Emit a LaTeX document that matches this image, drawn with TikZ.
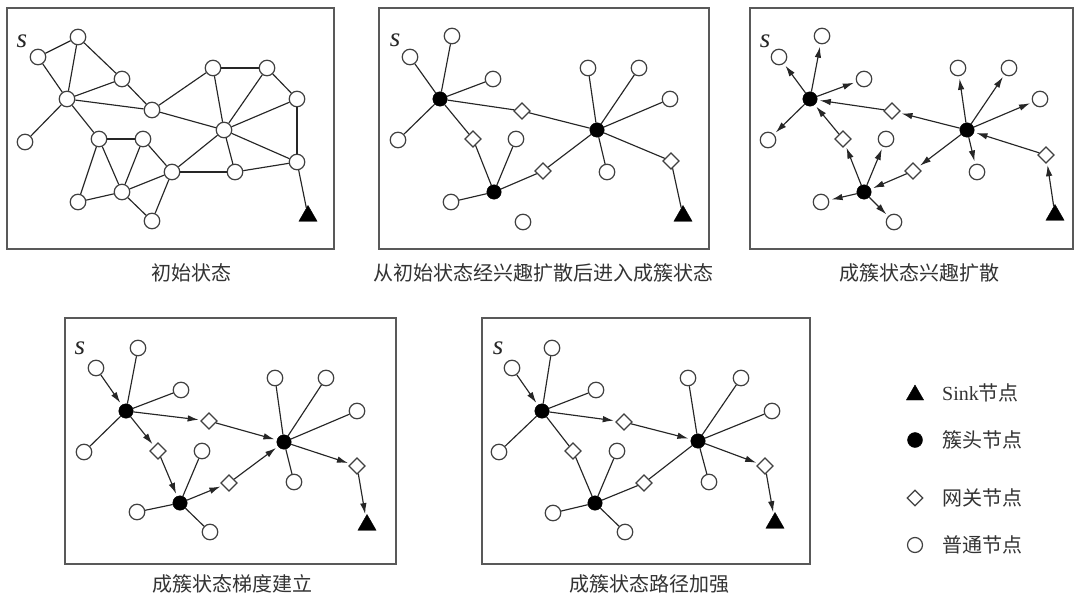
\documentclass[tikz,border=0pt]{standalone}
\usepackage{fontspec}
\setmainfont{Liberation Serif}
\newfontfamily\cjk{Noto Sans CJK SC}
\usetikzlibrary{shapes.geometric,arrows.meta}
\begin{document}
\begin{tikzpicture}[x=1pt,y=-1pt,
  nd/.style={circle,draw=black!75,fill=white,line width=1.2pt,minimum size=15.5pt,inner sep=0pt},
  hd/.style={circle,fill=black,draw=black,minimum size=14.5pt,inner sep=0pt},
  gw/.style={diamond,draw=black!75,fill=white,line width=1.2pt,minimum size=16.5pt,inner sep=0pt},
  sk/.style={regular polygon,regular polygon sides=3,fill=black,draw=black,minimum size=21pt,inner sep=0pt},
  ed/.style={draw=black!85,line width=1.15pt},
  arr/.style={ed,-{Latex[length=11pt,width=6.5pt]},shorten >=2.5pt},
  frame/.style={draw=black!65,line width=1.5pt},
  captxt/.style={font=\cjk\fontsize{20}{20}\selectfont,text=black!80,inner sep=0pt},
  slab/.style={font=\itshape\fontsize{27}{27}\selectfont,text=black!85,inner sep=0pt},
  leg/.style={font=\fontsize{20}{20}\selectfont,text=black!80,anchor=west,inner sep=0pt}]
\useasboundingbox[fill=white] (0,0) rectangle (1078,596);

% ---------- panel 1: initial state ----------
\draw[frame] (7,8) rectangle (334,249);
\node[slab] (s1) at (22,41) {s};
\foreach \n/\x/\y in {A/38/57,B/78/37,C/122/79,D/67/99,E/152/110,F/25/142,G/99/139,H/143/139,
  I/172/172,J/122/192,K/78/202,L/152/221,M/213/68,N/267/68,O/297/99,P/224/130,Q/235/172,R/297/162}
  \node[nd] (a\n) at (\x,\y) {};
\node[sk] (aT) at (308,216) {};
\foreach \u/\v in {A/B,A/D,B/D,B/C,C/D,C/E,D/E,D/F,D/G,G/H,G/K,G/J,H/J,H/I,J/K,J/I,J/L,L/I,
  I/P,I/Q,E/M,E/P,M/N,M/P,N/P,N/O,O/P,O/R,P/R,P/Q,Q/R,R/T}
  \draw[ed] (a\u) -- (a\v);
\node[captxt] (c1) at (191,273) {初始状态};

% ---------- panel 2: clusters formed ----------
\draw[frame] (379,8) rectangle (709,249);
\node[slab] (s2) at (395,40) {s};
\node[hd] (bH1) at (440,99) {};
\node[hd] (bH2) at (494,192) {};
\node[hd] (bH3) at (597,130) {};
\node[gw] (bG1) at (522,111) {};
\node[gw] (bG2) at (473,139) {};
\node[gw] (bG3) at (543,171) {};
\node[gw] (bG4) at (671,161) {};
\node[sk] (bT) at (683,216) {};
\foreach \n/\x/\y in {a1/410/57,a2/452/36,a3/493/79,a4/398/140,a5/516/139,a6/451/202,a7/523/222,
  b1/588/68,b2/639/68,b3/670/99,b4/607/172}
  \node[nd] (b\n) at (\x,\y) {};
\foreach \u/\v in {H1/a1,H1/a2,H1/a3,H1/a4,H1/G1,G1/H3,H1/G2,G2/H2,H2/a5,H2/a6,H2/G3,G3/H3,
  H3/b1,H3/b2,H3/b3,H3/b4,H3/G4,G4/T}
  \draw[ed] (b\u) -- (b\v);
\node[captxt] (c2) at (543,273) {从初始状态经兴趣扩散后进入成簇状态};

% ---------- panel 3: interest diffusion ----------
\draw[frame] (750,8) rectangle (1073,249);
\node[slab] (s3) at (765,41) {s};
\node[hd] (cH1) at (810,99) {};
\node[hd] (cH2) at (864,192) {};
\node[hd] (cH3) at (967,130) {};
\node[gw] (cG1) at (892,111) {};
\node[gw] (cG2) at (843,139) {};
\node[gw] (cG3) at (913,171) {};
\node[gw] (cG4) at (1046,155) {};
\node[sk] (cT) at (1055,215) {};
\foreach \n/\x/\y in {a1/779/57,a2/822/36,a3/864/79,a4/768/140,a5/886/139,a6/821/202,a7/894/222,
  b1/958/68,b2/1009/68,b3/1040/99,b4/977/172}
  \node[nd] (c\n) at (\x,\y) {};
\foreach \u/\v in {T/G4,G4/H3,H3/G1,G1/H1,H3/G3,G3/H2,H2/G2,G2/H1,
  H1/a1,H1/a2,H1/a3,H1/a4,H3/b1,H3/b2,H3/b3,H3/b4,H2/a5,H2/a6,H2/a7}
  \draw[arr] (c\u) -- (c\v);
\node[captxt] (c3) at (919,273) {成簇状态兴趣扩散};

% ---------- panel 4: gradient setup ----------
\draw[frame] (65,318) rectangle (396,564);
\node[slab] (s4) at (80,348) {s};
\node[hd] (dH1) at (126,411) {};
\node[hd] (dH2) at (180,503) {};
\node[hd] (dH3) at (284,442) {};
\node[gw] (dG1) at (209,421) {};
\node[gw] (dG2) at (158,451) {};
\node[gw] (dG3) at (229,483) {};
\node[gw] (dG4) at (357,466) {};
\node[sk] (dT) at (367,525) {};
\foreach \n/\x/\y in {a1/96/368,a2/138/348,a3/181/390,a4/84/452,a5/202/451,a6/137/512,a7/210/532,
  b1/275/378,b2/326/378,b3/357/411,b4/294/482}
  \node[nd] (d\n) at (\x,\y) {};
\foreach \u/\v in {H1/a2,H1/a3,H1/a4,H2/a5,H2/a6,H2/a7,H3/b1,H3/b2,H3/b3,H3/b4}
  \draw[ed] (d\u) -- (d\v);
\foreach \u/\v in {a1/H1,H1/G1,G1/H3,H1/G2,G2/H2,H2/G3,G3/H3,H3/G4,G4/T}
  \draw[arr] (d\u) -- (d\v);
\node[captxt] (c4) at (232,584) {成簇状态梯度建立};

% ---------- panel 5: path reinforcement ----------
\draw[frame] (482,318) rectangle (810,564);
\node[slab] (s5) at (498,348) {s};
\node[hd] (eH1) at (542,411) {};
\node[hd] (eH2) at (595,503) {};
\node[hd] (eH3) at (698,441) {};
\node[gw] (eG1) at (624,422) {};
\node[gw] (eG2) at (573,451) {};
\node[gw] (eG3) at (644,483) {};
\node[gw] (eG4) at (765,466) {};
\node[sk] (eT) at (775,523) {};
\foreach \n/\x/\y in {a1/512/368,a2/552/348,a3/596/390,a4/499/452,a5/617/451,a6/553/513,a7/625/532,
  b1/688/378,b2/741/378,b3/772/411,b4/709/482}
  \node[nd] (e\n) at (\x,\y) {};
\foreach \u/\v in {H1/a2,H1/a3,H1/a4,H1/G2,G2/H2,H2/a5,H2/a6,H2/a7,H2/G3,G3/H3,
  H3/b1,H3/b2,H3/b3,H3/b4}
  \draw[ed] (e\u) -- (e\v);
\foreach \u/\v in {a1/H1,H1/G1,G1/H3,H3/G4,G4/T}
  \draw[arr] (e\u) -- (e\v);
\node[captxt] (c5) at (649,584) {成簇状态路径加强};

% ---------- legend ----------
\node[sk,minimum size=20pt] (lT) at (915,395) {};
\node[hd,minimum size=15pt] (lH) at (915,440) {};
\node[gw,minimum size=16pt] (lG) at (915,498) {};
\node[nd,minimum size=15pt] (lN) at (915,545) {};
\node[leg] (tT) at (942,393) {Sink{\cjk 节点}};
\node[leg] (tH) at (942,440) {\cjk 簇头节点};
\node[leg] (tG) at (942,498) {\cjk 网关节点};
\node[leg] (tN) at (942,545) {\cjk 普通节点};
\end{tikzpicture}
\end{document}
